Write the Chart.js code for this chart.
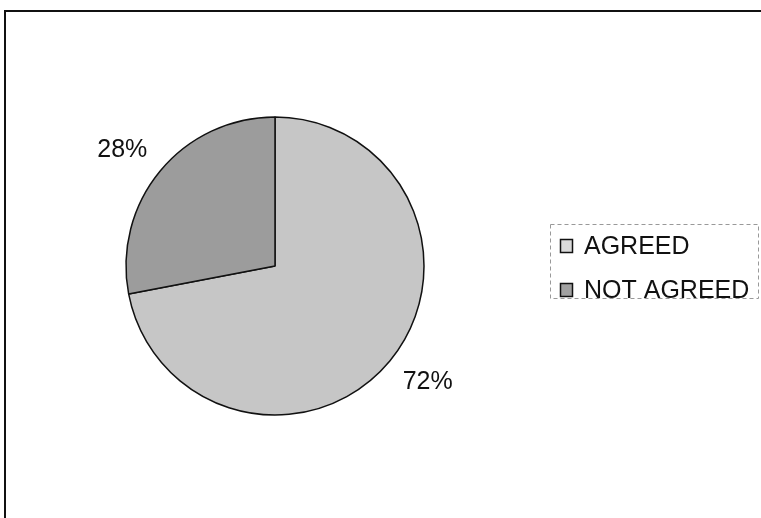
<!DOCTYPE html>
<html>
<head>
<meta charset="utf-8">
<script src="https://cdn.jsdelivr.net/npm/chart.js@4"></script>
<style>
  html, body { margin: 0; padding: 0; background: #fff; }
  #wrap { width: 761px; height: 518px; }
</style>
</head>
<body>
<div id="wrap"><canvas id="pieChart" width="761" height="518"></canvas></div>
<script>
const categories = ["AGREED", "NOT AGREED"];
const percentValues = [72, 28];
const sliceColors = ["#c6c6c6", "#9c9c9c"];
const swatchColors = ["#dadada", "#a2a2a2"];

// frame of the scanned chart: only top and left lines are visible
const framePlugin = {
  id: "frame",
  beforeDraw(chart) {
    const ctx = chart.ctx;
    ctx.save();
    ctx.strokeStyle = "#111";
    ctx.lineWidth = 2;
    ctx.beginPath();
    ctx.moveTo(5, 518);
    ctx.lineTo(5, 11);
    ctx.lineTo(761, 11);
    ctx.stroke();
    ctx.restore();
  },
};

// percent labels placed outside each slice
const outsideLabels = {
  id: "outsideLabels",
  afterDatasetsDraw(chart) {
    const ctx = chart.ctx;
    const meta = chart.getDatasetMeta(0);
    ctx.save();
    ctx.font = "25px 'Liberation Sans', Arial, sans-serif";
    ctx.fillStyle = "#111";
    ctx.textAlign = "center";
    ctx.textBaseline = "middle";
    meta.data.forEach((arc, i) => {
      const mid = (arc.startAngle + arc.endAngle) / 2 - 0.04;
      const r = arc.outerRadius + 43;
      ctx.fillText(percentValues[i] + "%", arc.x + Math.cos(mid) * r, arc.y + Math.sin(mid) * r);
    });
    ctx.restore();
  },
};

// legend box on the right, drawn from the labels
const boxLegend = {
  id: "boxLegend",
  afterDraw(chart) {
    const ctx = chart.ctx;
    ctx.save();
    ctx.strokeStyle = "#999";
    ctx.lineWidth = 1;
    ctx.setLineDash([4, 3]);
    ctx.strokeRect(550.5, 224.5, 208, 74);
    ctx.setLineDash([]);
    ctx.font = "25px 'Liberation Sans', Arial, sans-serif";
    ctx.textBaseline = "middle";
    ctx.textAlign = "left";
    chart.data.labels.forEach((lab, i) => {
      const y = 246 + i * 44;
      ctx.fillStyle = swatchColors[i];
      ctx.fillRect(560, y - 7, 13, 14);
      ctx.strokeStyle = "#111";
      ctx.lineWidth = 1.5;
      ctx.strokeRect(560.5, y - 6.5, 12, 13);
      ctx.fillStyle = "#111";
      ctx.fillText(lab, 584, y + 1);
    });
    ctx.restore();
  },
};

new Chart(document.getElementById("pieChart").getContext("2d"), {
  type: "pie",
  data: {
    labels: categories,
    datasets: [
      {
        data: percentValues,
        backgroundColor: sliceColors,
        borderColor: "#111",
        borderWidth: 1.5,
      },
    ],
  },
  options: {
    responsive: false,
    animation: false,
    radius: 149,
    layout: {
      padding: { left: 126, right: 337, top: 117, bottom: 103 },
    },
    plugins: {
      legend: { display: false },
      tooltip: { enabled: false },
    },
  },
  plugins: [framePlugin, outsideLabels, boxLegend],
});
</script>
</body>
</html>
